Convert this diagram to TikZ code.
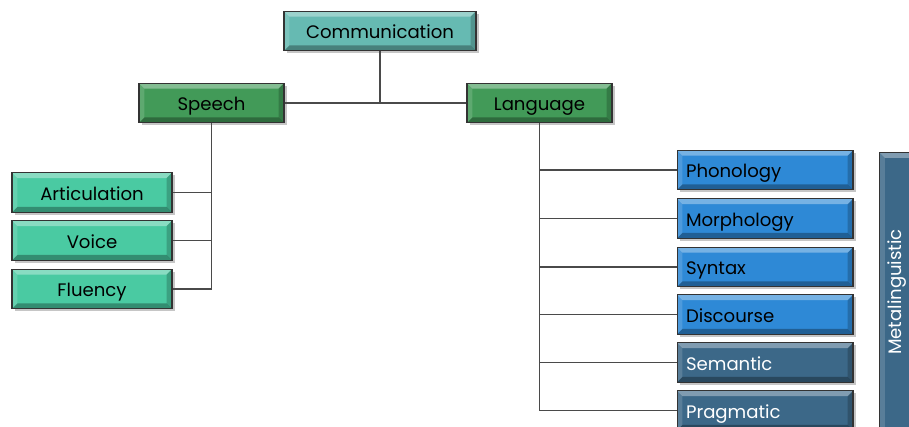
\documentclass[tikz,border=0pt]{standalone}
\usepackage{fontspec}
\setmainfont{Poppins}
\usetikzlibrary{shadows}

\definecolor{commteal}{HTML}{66BAB2}
\definecolor{branchgreen}{HTML}{429A58}
\definecolor{speechmint}{HTML}{4ACAA2}
\definecolor{langblue}{HTML}{2E89D6}
\definecolor{slate}{HTML}{3C6888}
\definecolor{wire}{HTML}{4A4A4A}

\tikzset{
  bevel/.style={
    path picture={
      \coordinate (nw) at (path picture bounding box.north west);
      \coordinate (ne) at (path picture bounding box.north east);
      \coordinate (sw) at (path picture bounding box.south west);
      \coordinate (se) at (path picture bounding box.south east);
      \fill[white,opacity=0.35] (nw) -- (ne) -- ([shift={(-3pt,-3pt)}]ne) -- ([shift={(3pt,-3pt)}]nw) -- cycle;
      \fill[white,opacity=0.15] (nw) -- (sw) -- ([shift={(3pt,3pt)}]sw) -- ([shift={(3pt,-3pt)}]nw) -- cycle;
      \fill[black,opacity=0.30] (sw) -- (se) -- ([shift={(-3pt,3pt)}]se) -- ([shift={(3pt,3pt)}]sw) -- cycle;
      \fill[black,opacity=0.20] (ne) -- (se) -- ([shift={(-3pt,3pt)}]se) -- ([shift={(-3pt,-3pt)}]ne) -- cycle;
    }},
  labelfont/.style={font=\fontsize{10.3}{12}\selectfont},
  box/.style={bevel, draw=black!80, line width=0.6pt, minimum height=0.79cm,
    inner sep=0pt, labelfont, text height=10pt, text depth=1pt,
    drop shadow={shadow xshift=1.5pt, shadow yshift=-1.5pt, opacity=0.45}},
  topbox/.style={box, fill=commteal, minimum width=3.84cm},
  midbox/.style={box, fill=branchgreen, minimum width=2.9cm},
  speechbox/.style={box, fill=speechmint, minimum width=3.2cm},
  langbox/.style={box, minimum width=3.52cm, text width=3.16cm, align=left},
  bluebox/.style={langbox, fill=langblue, text=black},
  slatebox/.style={langbox, fill=slate, text=white},
  wirestyle/.style={draw=wire, line width=0.7pt},
}

\begin{document}
\begin{tikzpicture}[x=0.02cm, y=-0.02cm]
  \useasboundingbox (0,0) rectangle (909,426);

  % side bar
  \node[bevel, draw=black!80, line width=0.6pt, fill=slate, anchor=north west,
        minimum width=0.92cm, minimum height=5.8cm, inner sep=0pt] (metabar) at (879,152) {};
  \node[rotate=90, text=white, labelfont] (metalabel) at (897,292) {Metalinguistic};

  % root and branches
  \node[topbox] (comm) at (380,31) {Communication};
  \node[midbox] (speech) at (211.5,103) {Speech};
  \node[midbox] (lang) at (539.5,103) {Language};

  % speech leaves
  \node[speechbox] (artic) at (92,192.5) {Articulation};
  \node[speechbox] (voice) at (92,240.5) {Voice};
  \node[speechbox] (fluency) at (92,289) {Fluency};

  % language leaves
  \node[bluebox] (phon) at (765,170) {Phonology};
  \node[bluebox] (morph) at (765,218.5) {Morphology};
  \node[bluebox] (syntax) at (765,267) {Syntax};
  \node[bluebox] (disc) at (765,314.5) {Discourse};
  \node[slatebox] (sem) at (765,362.5) {Semantic};
  \node[slatebox] (prag) at (765,410.5) {Pragmatic};

  % connectors
  \draw[wirestyle] (comm.south) -- (comm.south |- speech.east);
  \draw[wirestyle] (speech.east) -- (lang.west);

  \draw[wirestyle] (speech.south) -- (speech.south |- fluency.east) -- (fluency.east);
  \draw[wirestyle] (artic.east) -- (artic.east -| speech.south);
  \draw[wirestyle] (voice.east) -- (voice.east -| speech.south);

  \draw[wirestyle] (lang.south) -- (lang.south |- prag.west) -- (prag.west);
  \foreach \leaf in {phon,morph,syntax,disc,sem}
    \draw[wirestyle] (\leaf.west) -- (\leaf.west -| lang.south);
\end{tikzpicture}
\end{document}
